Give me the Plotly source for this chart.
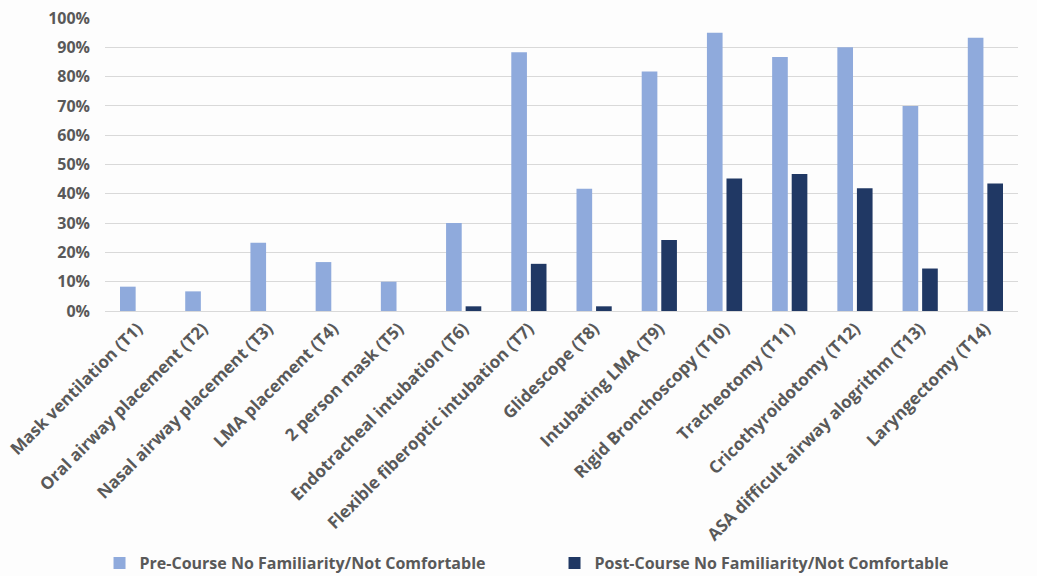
import plotly.graph_objects as go

categories = [
    "Mask ventilation (T1)",
    "Oral airway placement (T2)",
    "Nasal airway placement (T3)",
    "LMA placement (T4)",
    "2 person mask (T5)",
    "Endotracheal intubation (T6)",
    "Flexible fiberoptic intubation (T7)",
    "Glidescope (T8)",
    "Intubating LMA (T9)",
    "Rigid Bronchoscopy (T10)",
    "Tracheotomy (T11)",
    "Cricothyroidotomy (T12)",
    "ASA difficult airway alogrithm (T13)",
    "Laryngectomy (T14)",
]

pre_course = [8.3, 6.7, 23.3, 16.7, 10.0, 30.0, 88.3, 41.7, 81.7, 95.0, 86.7, 90.0, 70.0, 93.3]
post_course = [0, 0, 0, 0, 0, 1.6, 16.1, 1.6, 24.2, 45.2, 46.8, 41.9, 14.5, 43.5]

series_names = [
    "Pre-Course No Familiarity/Not Comfortable",
    "Post-Course No Familiarity/Not Comfortable",
]

FONT = "Open Sans"
TEXT = "#595959"

fig = go.Figure()
fig.add_trace(go.Bar(x=categories, y=pre_course, name=series_names[0],
                     marker=dict(color="#8FAADC", line=dict(width=0))))
fig.add_trace(go.Bar(x=categories, y=post_course, name=series_names[1],
                     marker=dict(color="#203864", line=dict(width=0))))

fig.update_layout(
    width=1037, height=576,
    paper_bgcolor="#fdfdfd", plot_bgcolor="#fdfdfd",
    margin=dict(l=105, r=19, t=18, b=265, autoexpand=False),
    barmode="group", bargap=0.4, bargroupgap=0.2,
    font=dict(family=FONT, color=TEXT),
    showlegend=True,
    legend=dict(
        orientation="h", x=-0.006, xanchor="left", y=-0.86, yanchor="middle",
        font=dict(family=FONT, size=16, color=TEXT, weight="bold"),
        entrywidth=410, itemwidth=30, bgcolor="rgba(0,0,0,0)",
        traceorder="normal",
    ),
)

fig.update_xaxes(
    tickangle=-45, automargin=False, showgrid=False,
    showline=True, linecolor="#d9d9d9", linewidth=1,
    ticks="", tickfont=dict(family=FONT, size=17, color=TEXT, weight="bold"),
)
fig.update_yaxes(
    range=[0, 100], dtick=10, ticksuffix="%", automargin=False,
    showgrid=True, gridcolor="#d9d9d9", gridwidth=1, zeroline=False,
    ticks="", ticklabelstandoff=14,
    tickfont=dict(family=FONT, size=16, color=TEXT, weight="bold"),
)

fig.write_html("out.html")
